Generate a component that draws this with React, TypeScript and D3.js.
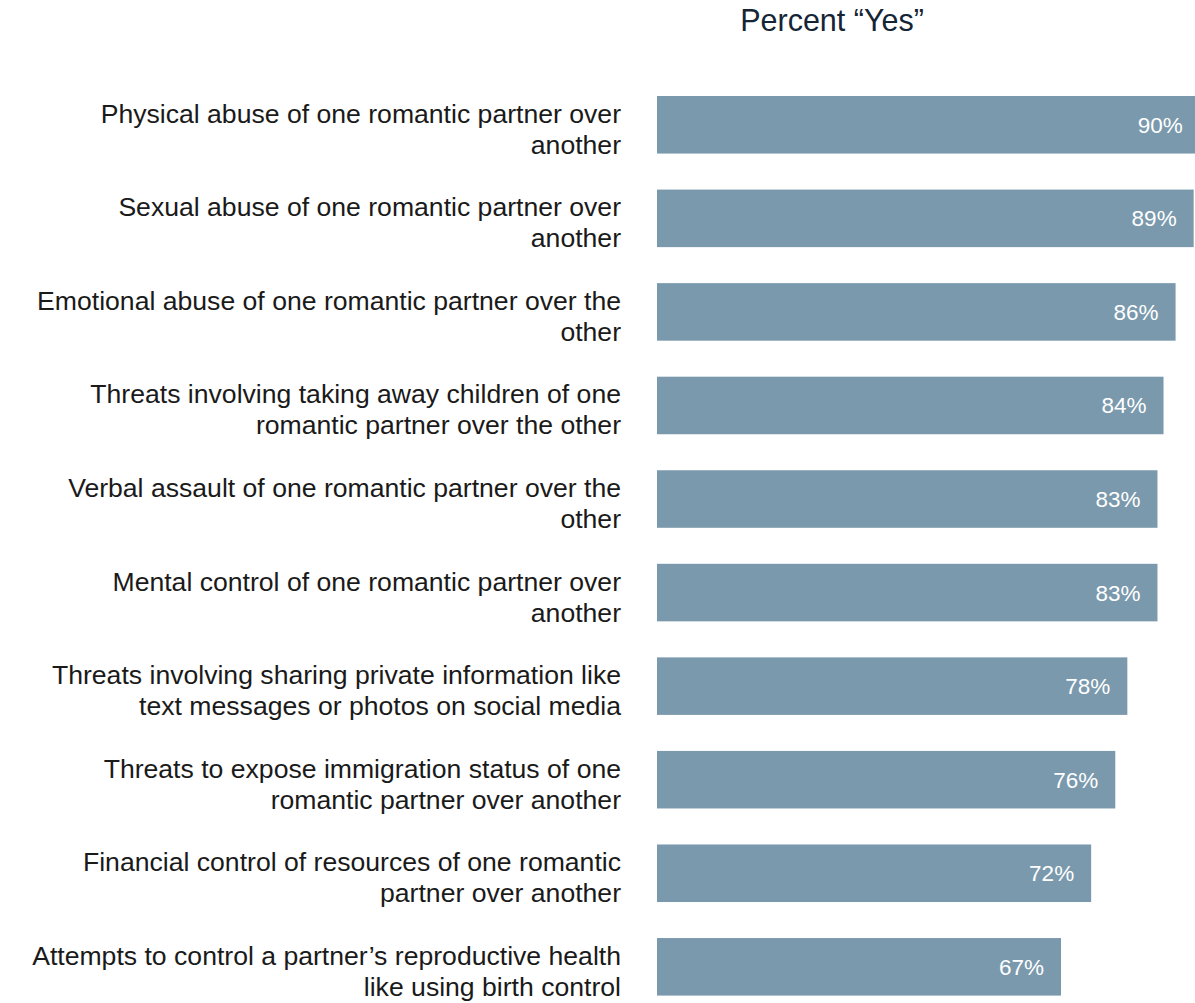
import React from "react";
import * as d3 from "d3";

const categoryLines: string[][] = [
  ["Physical abuse of one romantic partner over", "another"],
  ["Sexual abuse of one romantic partner over", "another"],
  ["Emotional abuse of one romantic partner over the", "other"],
  ["Threats involving taking away children of one", "romantic partner over the other"],
  ["Verbal assault of one romantic partner over the", "other"],
  ["Mental control of one romantic partner over", "another"],
  ["Threats involving sharing private information like", "text messages or photos on social media"],
  ["Threats to expose immigration status of one", "romantic partner over another"],
  ["Financial control of resources of one romantic", "partner over another"],
  ["Attempts to control a partner\u2019s reproductive health", "like using birth control"],
];
const values: number[] = [90, 89, 86, 84, 83, 83, 78, 76, 72, 67];
const title = "Percent \u201CYes\u201D";

const W = 1195;
const H = 1003;
const FONT = "'Liberation Sans', Arial, Helvetica, sans-serif";
const FS = 26.6;
const VFS = 22.5;

export default function App() {
  const ids = categoryLines.map((_, i) => String(i));
  const x = d3.scaleLinear().domain([0, 100]).range([657, 657 + 603]);
  const y = d3.scaleBand<string>().domain(ids).range([60, 1031.6]).padding(0.385);
  const bw = y.bandwidth();

  return (
    <div style={{ position: "absolute", left: 0, top: 0 }}>
      <svg width={W} height={H} style={{ display: "block", background: "#fff" }}>
        <text x={832} y={31} textAnchor="middle" fontFamily={FONT} fontSize={30.5} fill="#152535">
          {title}
        </text>
        {values.map((v, i) => {
          const y0 = y(ids[i]) as number;
          const cy = y0 + bw / 2;
          return (
            <g key={i}>
              <rect x={x(0)} y={y0} width={x(v) - x(0)} height={bw} fill="#7a99ad" />
              <text
                x={x(v) - 17}
                y={cy + 8}
                textAnchor="end"
                fontFamily={FONT}
                fontSize={VFS}
                fill="#ffffff"
              >
                {d3.format(".0f")(v) + "%"}
              </text>
              <text textAnchor="end" fontFamily={FONT} fontSize={FS} fill="#1a1a1a">
                {categoryLines[i].map((ln, j) => (
                  <tspan key={j} x={621} y={cy - 2 + j * 31}>
                    {ln}
                  </tspan>
                ))}
              </text>
            </g>
          );
        })}
      </svg>
    </div>
  );
}
